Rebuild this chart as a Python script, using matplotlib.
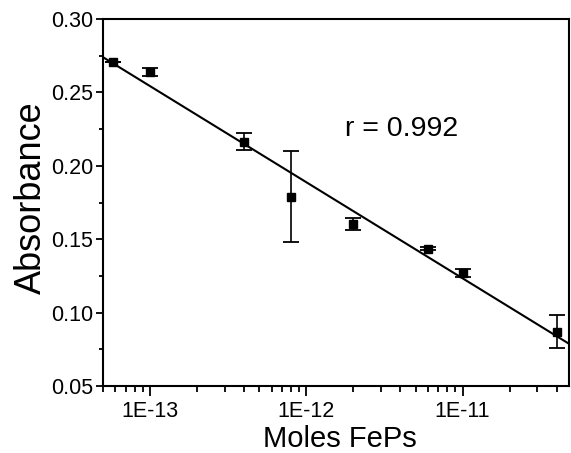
import numpy as np
import matplotlib
matplotlib.use("Agg")
import matplotlib.pyplot as plt
from matplotlib.ticker import LogLocator, FixedLocator, NullFormatter, FixedFormatter

plt.rcParams['font.family'] = ['Liberation Sans', 'DejaVu Sans']

moles = [5.8e-14, 1.0e-13, 4.0e-13, 8.0e-13, 2.0e-12, 6.0e-12, 1.0e-11, 4.0e-11]
absorbance = [0.271, 0.264, 0.2165, 0.179, 0.1604, 0.1434, 0.127, 0.0871]
errors = [0.0, 0.0026, 0.0057, 0.031, 0.0038, 0.001, 0.0025, 0.011]
x_ticks = [1e-13, 1e-12, 1e-11]
x_tick_labels = ["1E-13", "1E-12", "1E-11"]
y_ticks = [0.05, 0.10, 0.15, 0.20, 0.25, 0.30]
y_tick_labels = ["0.05", "0.10", "0.15", "0.20", "0.25", "0.30"]
r_label = "r = 0.992"

fig = plt.figure(figsize=(5.71, 4.53), dpi=100)
ax = fig.add_axes([103/571, 1-386/453, (569-103)/571, (386-19)/453])

xlim = (5.0e-14, 4.8e-11)
ax.set_xscale('log')
ax.set_xlim(*xlim)
ax.set_ylim(0.05, 0.30)

# fit line
lx = np.log10(np.array(moles))
slope, intercept = np.polyfit(lx, np.array(absorbance), 1)
fx = np.array([np.log10(xlim[0]), np.log10(xlim[1])])
ax.plot(10**fx, slope*fx + intercept, color='black', lw=1.5, zorder=2)

ax.errorbar(moles, absorbance, yerr=errors, fmt='s', color='black',
            markersize=6.3, capsize=5.5, elinewidth=1.2, capthick=1.3,
            ecolor='black', zorder=3)

ax.xaxis.set_major_locator(FixedLocator(x_ticks))
ax.xaxis.set_major_formatter(FixedFormatter(x_tick_labels))
ax.xaxis.set_minor_locator(LogLocator(base=10, subs=np.arange(2, 10)))
ax.xaxis.set_minor_formatter(NullFormatter())
ax.yaxis.set_major_locator(FixedLocator(y_ticks))
ax.yaxis.set_major_formatter(FixedFormatter(y_tick_labels))
ax.yaxis.set_minor_locator(FixedLocator([0.075, 0.125, 0.175, 0.225, 0.275]))

ax.tick_params(axis='both', which='both', direction='out', top=False, right=False,
               labelsize=15.5, width=1.3, colors='black')
ax.tick_params(axis='x', which='major', length=7, pad=4)
ax.tick_params(axis='x', which='minor', length=4)
ax.tick_params(axis='y', which='major', length=5, pad=2)
ax.tick_params(axis='y', which='minor', length=3)

for s in ax.spines.values():
    s.set_linewidth(1.5)

ax.set_xlabel("Moles FePs", fontsize=21)
ax.xaxis.set_label_coords((340 - 103) / 466, -(447 - 386) / 367, transform=ax.transAxes)
ax.xaxis.label.set_va('baseline')
ax.set_ylabel("Absorbance", fontsize=26)
ax.yaxis.set_label_coords(-(103 - 31) / 466, (386 - 198) / 367, transform=ax.transAxes)
ax.yaxis.label.set_va('center')

ax.text(0.52, (386 - 136) / 367, r_label, transform=ax.transAxes, fontsize=20.5,
        ha='left', va='baseline')

fig.savefig("out.png", dpi=100)
